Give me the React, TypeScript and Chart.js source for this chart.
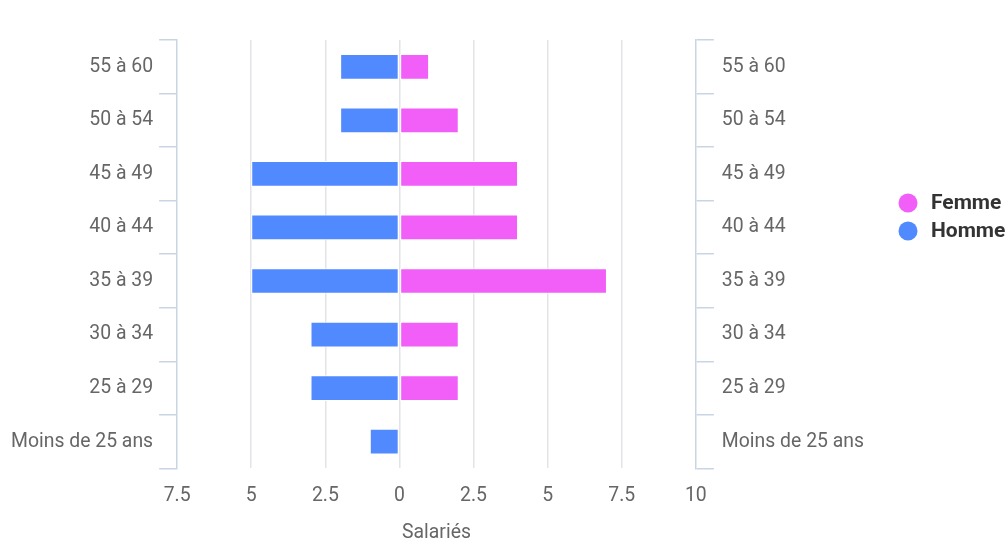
import React, { useEffect, useRef } from "react";
import { Chart, registerables } from "chart.js";

Chart.register(...registerables);

const ageGroups = ["55 à 60", "50 à 54", "45 à 49", "40 à 44", "35 à 39", "30 à 34", "25 à 29", "Moins de 25 ans"];
const femmeValues = [1, 2, 4, 4, 7, 2, 2, 0];
const hommeValues = [-2, -2, -5, -5, -5, -3, -3, -1];
const seriesNames = ["Femme", "Homme"];
const seriesColors = ["#f25ef8", "#5189ff"];
const xMin = -7.5;
const xMax = 10;
const xStep = 2.5;
const axisTitle = "Salariés";

const legendPlugin = {
  id: "sideLegend",
  afterDraw(chart: any, _args: any, opts: any) {
    const ctx = chart.ctx;
    ctx.save();
    chart.data.datasets.forEach((ds: any, i: number) => {
      const cy = opts.y + i * opts.spacing;
      ctx.beginPath();
      ctx.fillStyle = ds.backgroundColor;
      ctx.arc(opts.x, cy, opts.radius, 0, Math.PI * 2);
      ctx.fill();
      ctx.fillStyle = opts.color;
      ctx.font = opts.font;
      ctx.textBaseline = "middle";
      ctx.textAlign = "left";
      ctx.fillText(ds.label, opts.x + opts.textGap, cy + 1);
    });
    ctx.restore();
  },
};

export default function App() {
  const ref = useRef<HTMLCanvasElement>(null);
  useEffect(() => {
    if (!ref.current) return;
    Chart.defaults.font.family = "Roboto";
    const axisColor = "#c9d5e4";
    const tickFont = { family: "Roboto", size: 19.4 };
    const chart = new Chart(ref.current, {
      type: "bar",
      data: {
        labels: ageGroups,
        datasets: [
          {
            label: seriesNames[0],
            data: femmeValues,
            backgroundColor: seriesColors[0],
            borderColor: "#ffffff",
            borderWidth: 1,
            borderSkipped: false,
            barPercentage: 0.48,
            categoryPercentage: 1,
          },
          {
            label: seriesNames[1],
            data: hommeValues,
            backgroundColor: seriesColors[1],
            borderColor: "#ffffff",
            borderWidth: 1,
            borderSkipped: false,
            barPercentage: 0.48,
            categoryPercentage: 1,
          },
        ],
      },
      plugins: [legendPlugin],
      options: {
        indexAxis: "y",
        responsive: false,
        animation: false,
        layout: { padding: { left: 5, right: 134, top: 40, bottom: 0 } },
        plugins: {
          legend: { display: false },
          tooltip: { enabled: false },
          sideLegend: {
            x: 908,
            y: 203,
            spacing: 28,
            radius: 9.5,
            textGap: 23,
            color: "#333333",
            font: "bold 21px Roboto",
          },
        } as any,
        scales: {
          x: {
            type: "linear",
            stacked: true,
            min: xMin,
            max: xMax,
            ticks: {
              stepSize: xStep,
              color: "#666666",
              font: tickFont,
              padding: 16,
              callback: (v: any) => String(Math.round(Math.abs(Number(v)) * 10) / 10),
            },
            grid: {
              color: (c: any) =>
                c.tick && (c.tick.value === xMin || c.tick.value === xMax) ? "rgba(0,0,0,0)" : "#e2e4e8",
              drawTicks: false,
              lineWidth: 1.5,
            },
            border: { display: false },
            title: {
              display: true,
              text: axisTitle,
              color: "#666666",
              font: tickFont,
              padding: { top: -2, bottom: -6 },
            },
          },
          y: {
            type: "category",
            stacked: true,
            position: "left",
            ticks: { color: "#666666", font: tickFont, padding: 6 },
            grid: { drawOnChartArea: false, tickLength: 18, color: axisColor, lineWidth: 1.5, offset: true },
            border: { color: axisColor, width: 1.5 },
          },
          y2: {
            type: "category",
            labels: ageGroups,
            position: "right",
            offset: true,
            ticks: { color: "#666666", font: tickFont, padding: 8 },
            grid: { drawOnChartArea: false, tickLength: 18, color: axisColor, lineWidth: 1.5, offset: true },
            border: { color: axisColor, width: 1.5 },
          },
        },
      } as any,
    });
    return () => chart.destroy();
  }, []);
  return (
    <div style={{ position: "fixed", left: 0, top: 0, width: 1006, height: 539, background: "#fff" }}>
      <canvas ref={ref} width={1006} height={539} style={{ display: "block" }} />
    </div>
  );
}
